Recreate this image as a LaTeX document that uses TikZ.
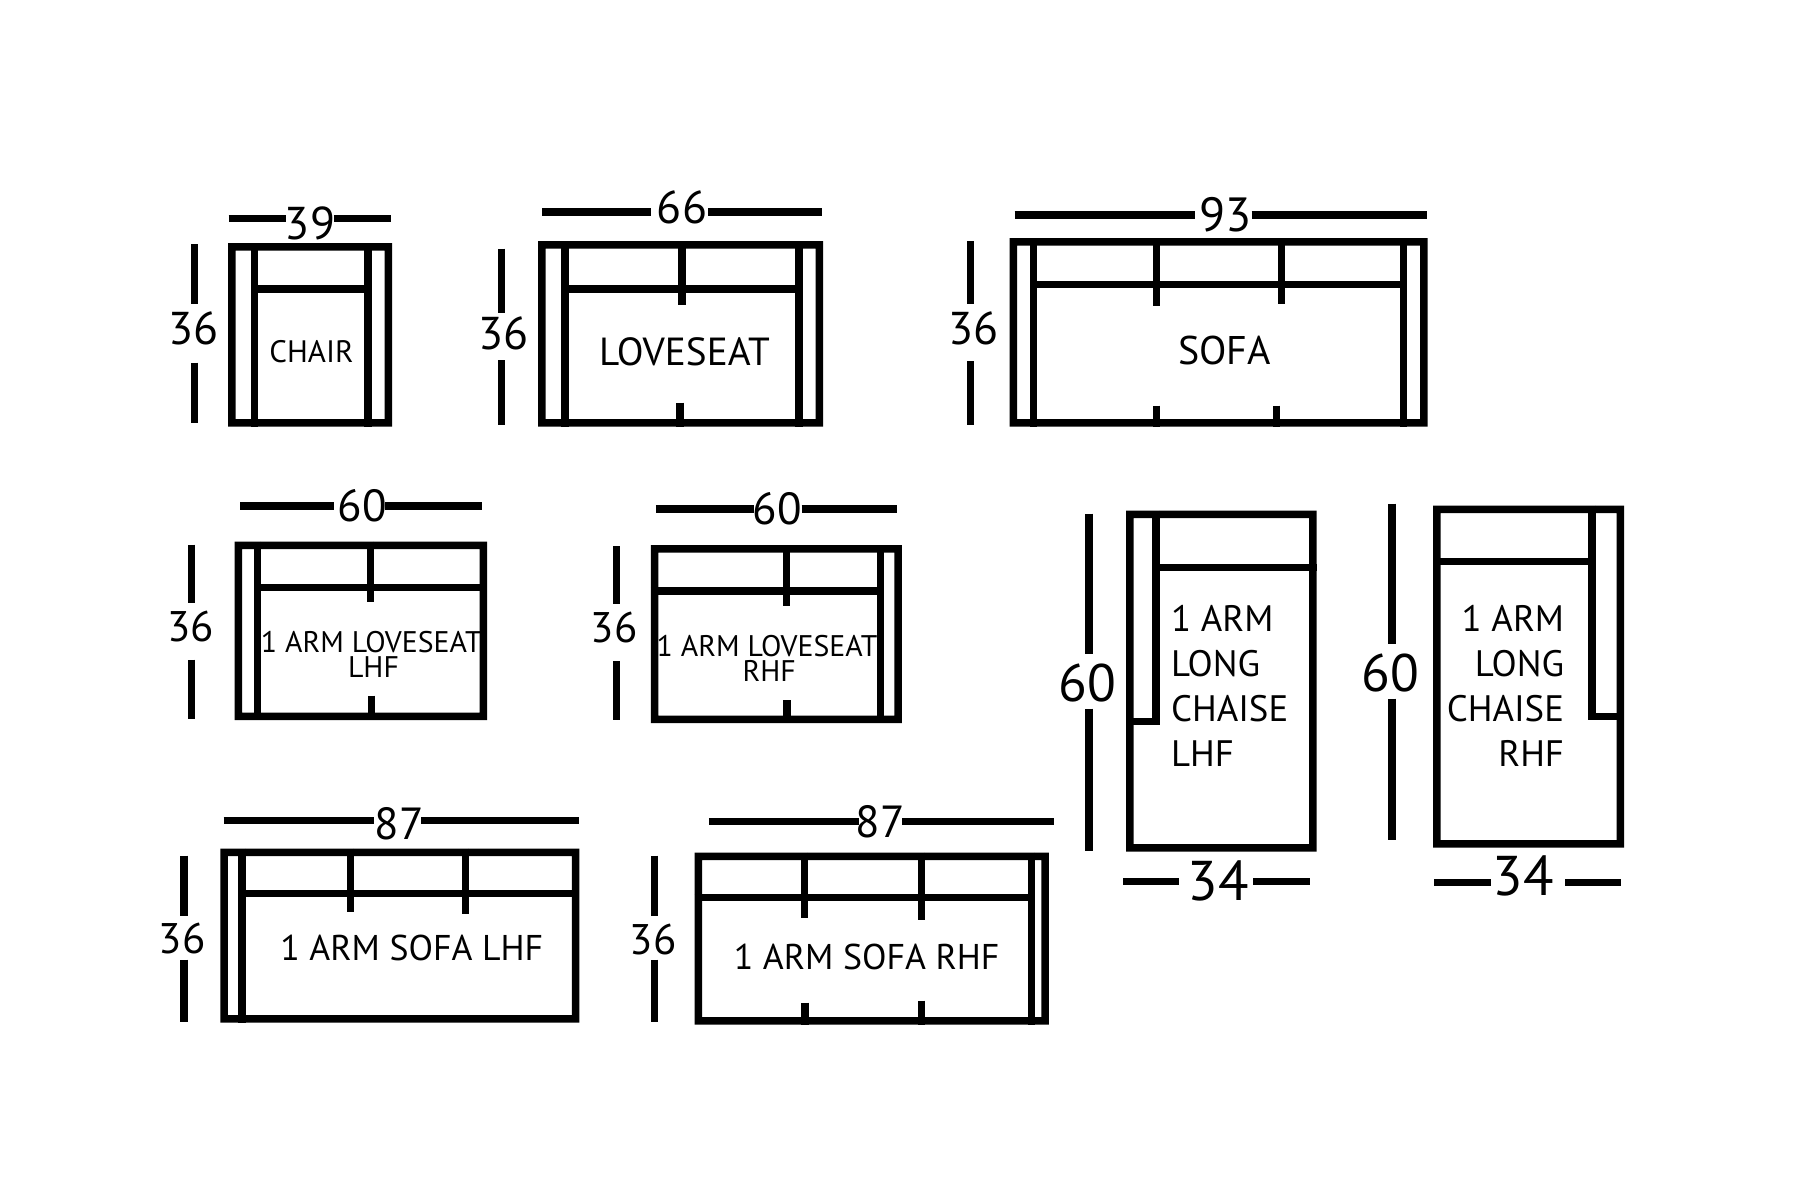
\documentclass[tikz,border=0pt]{standalone}
\usepackage{fontspec}
\setmainfont{PT Sans}
\tikzset{
  wall/.style={line width=3.75pt,black,line cap=butt},
  dimline/.style={line width=3.75pt,black,line cap=butt},
  lbl/.style={inner sep=0pt,outer sep=0pt,text=black},
}
\newcommand{\Fr}[4]{\fill[black,even odd rule] (#1,#2) rectangle (#3,#4) ({#1+7.5},{#2+7.5}) rectangle ({#3-7.5},{#4-7.5});}
\newcommand{\Fs}[1]{\fontsize{#1}{#1}\selectfont}
\begin{document}
\begin{tikzpicture}[x=0.5pt,y=-0.5pt]
\useasboundingbox (0,0) rectangle (1800,1200);
\fill[white] (0,0) rectangle (1800,1200);
% CHAIR
\begin{scope}[shift={(-1,0)}]
\Fr{229}{243}{393}{426.5}
\draw[wall] (255.7,243) -- (255.7,426.5);
\draw[wall] (369,243) -- (369,426.5);
\draw[wall] (255.7,289) -- (369,289);
\draw[dimline] (229.6,218.3) -- (287,218.3);
\draw[dimline] (334.6,218.3) -- (391.6,218.3);
\draw[dimline] (195.5,244.3) -- (195.5,304.3);
\draw[dimline] (195.5,362.7) -- (195.5,422.7);
\node[lbl] (c39) at (311,223) {\Fs{23}39};
\node[lbl] (c36) at (194.6,328) {\Fs{23}36};
\node[lbl] (chair) at (312.5,352) {\Fs{15.5}CHAIR};
\end{scope}
% LOVESEAT
\begin{scope}[shift={(-4,0)}]
\Fr{542}{241}{827}{426.5}
\draw[wall] (569,241) -- (569,426.5);
\draw[wall] (803,241) -- (803,426.5);
\draw[wall] (569,289) -- (803,289);
\draw[wall] (686,241) -- (686,305.3);
\draw[wall] (684,402.7) -- (684,426.5);
\draw[dimline] (546,212) -- (654.7,212);
\draw[dimline] (712.3,212) -- (826,212);
\draw[dimline] (505.5,248.7) -- (505.5,312.7);
\draw[dimline] (505.5,360) -- (505.5,425);
\node[lbl] (l66) at (686,207.3) {\Fs{23}66};
\node[lbl] (l36) at (507.6,333) {\Fs{23}36};
\node[lbl] (love) at (688.5,352) {\Fs{19.6}LOVESEAT};
\end{scope}
% SOFA
\begin{scope}[shift={(-5.5,0)}]
\Fr{1015}{238}{1433}{426.5}
\draw[wall] (1039,238) -- (1039,426.5);
\draw[wall] (1409,238) -- (1409,426.5);
\draw[wall] (1039,284.5) -- (1409,284.5);
\draw[wall] (1162,238) -- (1162,306.3);
\draw[wall] (1287,238) -- (1287,304);
\draw[wall] (1162,405.7) -- (1162,426.5);
\draw[wall] (1282,405.7) -- (1282,426.5);
\draw[dimline] (1020,215) -- (1200,215);
\draw[dimline] (1257,215) -- (1432,215);
\draw[dimline] (976,241) -- (976,304);
\draw[dimline] (976,361) -- (976,425);
\node[lbl] (s93) at (1231,215) {\Fs{24}93};
\node[lbl] (s36) at (979,328) {\Fs{23}36};
\node[lbl] (sofa) at (1230,350) {\Fs{20}SOFA};
\end{scope}
% 1 ARM LOVESEAT LHF
\begin{scope}[shift={(-1.5,-4.5)}]
\Fr{236}{546}{488.6}{724.5}
\draw[wall] (259,546) -- (259,724.5);
\draw[wall] (259,592) -- (488.6,592);
\draw[wall] (372,546) -- (372,606);
\draw[wall] (373,700) -- (373,724.5);
\draw[dimline] (241.6,510.5) -- (335.6,510.5);
\draw[dimline] (386.6,510.5) -- (483,510.5);
\draw[dimline] (193,549) -- (193,607);
\draw[dimline] (193,664) -- (193,723);
\node[lbl] (a60) at (363.9,510) {\Fs{22.5}60};
\node[lbl] (a36) at (192,631) {\Fs{21.4}36};
\node[lbl] (a1) at (372.8,647) {\Fs{14.9}1 ARM LOVESEAT};
\node[lbl] (a2) at (375,672) {\Fs{14.9}LHF};
\end{scope}
% 1 ARM LOVESEAT RHF
\begin{scope}[shift={(-4.5,-4)}]
\Fr{655.4}{549}{906.4}{727}
\draw[wall] (885,549) -- (885,727);
\draw[wall] (655.4,595) -- (885,595);
\draw[wall] (791,549) -- (791,610);
\draw[wall] (791.6,704) -- (791.6,727);
\draw[dimline] (660.4,513) -- (758,513);
\draw[dimline] (806,513) -- (901,513);
\draw[dimline] (621,550) -- (621,608);
\draw[dimline] (621,665) -- (621,724);
\node[lbl] (b60) at (782,513) {\Fs{22.5}60};
\node[lbl] (b36) at (618.8,632) {\Fs{21.4}36};
\node[lbl] (b1) at (771.5,650) {\Fs{14.9}1 ARM LOVESEAT};
\node[lbl] (b2) at (773.8,675) {\Fs{14.9}RHF};
\end{scope}
% 1 ARM SOFA LHF
\begin{scope}[shift={(-2,-4.5)}]
\Fr{222.4}{853}{581.3}{1027}
\draw[wall] (243.8,853) -- (243.8,1027);
\draw[wall] (243.8,898) -- (581.3,898);
\draw[wall] (352.7,853) -- (352.7,916);
\draw[wall] (467.5,853) -- (467.5,918);
\draw[dimline] (225.5,825) -- (376,825);
\draw[dimline] (423,825) -- (581,825);
\draw[dimline] (185.8,860) -- (185.8,920);
\draw[dimline] (185.8,964) -- (185.8,1026);
\node[lbl] (d87) at (401,828) {\Fs{22.5}87};
\node[lbl] (d36) at (184,943) {\Fs{21.4}36};
\node[lbl] (d1) at (413.7,952) {\Fs{17.9}1 ARM SOFA LHF};
\end{scope}
% 1 ARM SOFA RHF
\begin{scope}[shift={(-5,-4.5)}]
\Fr{699.5}{857}{1053.8}{1029}
\draw[wall] (1036.6,857) -- (1036.6,1029);
\draw[wall] (699.5,902) -- (1036.6,902);
\draw[wall] (809.3,857) -- (809.3,922);
\draw[wall] (926.6,857) -- (926.6,924);
\draw[wall] (810,1007) -- (810,1029);
\draw[wall] (926.6,1005) -- (926.6,1029);
\draw[dimline] (713.8,826) -- (864,826);
\draw[dimline] (907,826) -- (1059,826);
\draw[dimline] (659.5,860) -- (659.5,920);
\draw[dimline] (659.5,964) -- (659.5,1026);
\node[lbl] (e87) at (885.4,826) {\Fs{22.5}87};
\node[lbl] (e36) at (658.3,944) {\Fs{21.4}36};
\node[lbl] (e1) at (871.6,961) {\Fs{17.9}1 ARM SOFA RHF};
\end{scope}
% LONG CHAISE LHF
\begin{scope}[shift={(-7,-4.5)}]
\Fr{1133}{515}{1323.5}{856}
\draw[wall] (1163,515) -- (1163,729);
\draw[wall] (1133,726) -- (1166.7,726);
\draw[wall] (1163,572) -- (1323.5,572);
\draw[dimline] (1130,886) -- (1186,886);
\draw[dimline] (1260,886) -- (1317,886);
\draw[dimline] (1096,518) -- (1096,658);
\draw[dimline] (1096,713) -- (1096,855);
\node[lbl] (f34) at (1225,885) {\Fs{28}34};
\node[lbl] (f60) at (1094,688) {\Fs{26.4}60};
\node[lbl,anchor=base west] (f1) at (1178,635.5) {\Fs{18.4}1 ARM};
\node[lbl,anchor=base west] (f2) at (1178,680.5) {\Fs{18.4}LONG};
\node[lbl,anchor=base west] (f3) at (1178,726) {\Fs{18.4}CHAISE};
\node[lbl,anchor=base west] (f4) at (1178,771) {\Fs{18.4}LHF};
\end{scope}
% LONG CHAISE RHF
\begin{scope}[shift={(-8,-4.5)}]
\Fr{1441}{510}{1632}{852}
\draw[wall] (1600,510) -- (1600,724);
\draw[wall] (1596.3,721) -- (1632,721);
\draw[wall] (1441,566) -- (1600,566);
\draw[dimline] (1442,887) -- (1499,887);
\draw[dimline] (1573,887) -- (1629,887);
\draw[dimline] (1400,508) -- (1400,648);
\draw[dimline] (1400,703) -- (1400,844);
\node[lbl] (g34) at (1531,880) {\Fs{28}34};
\node[lbl] (g60) at (1398,678) {\Fs{26.4}60};
\node[lbl,anchor=base east] (g1) at (1572,635.5) {\Fs{18.4}1 ARM};
\node[lbl,anchor=base east] (g2) at (1572,680.5) {\Fs{18.4}LONG};
\node[lbl,anchor=base east] (g3) at (1572,726) {\Fs{18.4}CHAISE};
\node[lbl,anchor=base east] (g4) at (1572,771) {\Fs{18.4}RHF};
\end{scope}
\end{tikzpicture}
\end{document}
